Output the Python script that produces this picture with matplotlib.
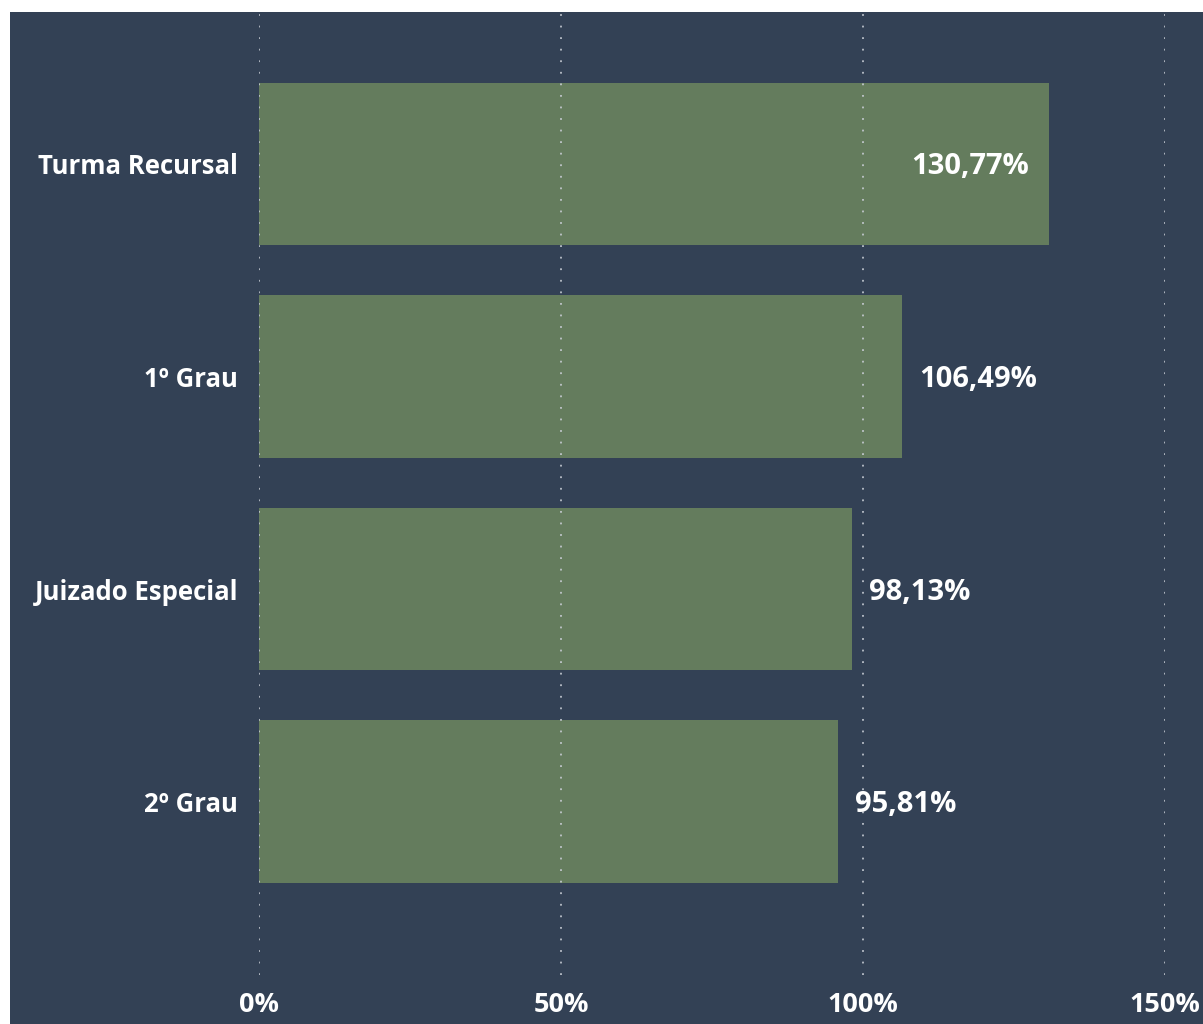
import matplotlib
matplotlib.use("Agg")
import matplotlib.pyplot as plt
from matplotlib.patches import Rectangle
from matplotlib.ticker import FuncFormatter

categories = ["Turma Recursal", "1º Grau", "Juizado Especial", "2º Grau"]
values = [130.77, 106.49, 98.13, 95.81]
value_labels = ["130,77%", "106,49%", "98,13%", "95,81%"]
x_ticks = [0, 50, 100, 150]

BG = "#334155"
BAR = "#647c5d"
W, H = 1203, 1024

plt.rcParams['font.family'] = ['Open Sans', 'DejaVu Sans']

fig = plt.figure(figsize=(W / 100, H / 100), dpi=100, facecolor="white")
fig.add_artist(Rectangle((10 / W, 0), 1 - 10 / W, 1 - 12 / H,
                         transform=fig.transFigure, facecolor=BG,
                         edgecolor="none", zorder=-5))

ax = fig.add_axes([259 / W, (H - 975) / H, 906 / W, 963 / H])
ax.set_zorder(1)
ax.set_facecolor("none")

ypos = list(range(len(categories)))
bars = ax.barh(ypos, values, height=0.763, color=BAR, zorder=2)

ax.set_xlim(0, 150)
ax.set_ylim(3.816, -0.715)

for xv in x_ticks:
    ax.axvline(xv, color="#c9ced6", lw=1.3, linestyle=(0, (1, 5.4)),
               alpha=0.9, zorder=3)

ax.set_xticks(x_ticks)
ax.xaxis.set_major_formatter(FuncFormatter(lambda v, p: f"{int(v)}%"))
ax.set_yticks(ypos)
ax.set_yticklabels(categories)
ax.tick_params(axis="both", length=0, colors="white")
ax.tick_params(axis="y", pad=15, labelsize=18.5)
ax.tick_params(axis="x", pad=12, labelsize=19.5)
for lbl in ax.get_xticklabels() + ax.get_yticklabels():
    lbl.set_fontweight("bold")
for s in ax.spines.values():
    s.set_visible(False)

for i, (v, t) in enumerate(zip(values, value_labels)):
    if v > 120:
        ax.annotate(t, xy=(v, i), xytext=(-20, -3), textcoords="offset pixels",
                    ha="right", va="center", color="white", fontsize=21,
                    fontweight="bold", zorder=4)
    else:
        ax.annotate(t, xy=(v, i), xytext=(17, -3), textcoords="offset pixels",
                    ha="left", va="center", color="white", fontsize=21,
                    fontweight="bold", zorder=4)

fig.savefig("out.png", dpi=100, facecolor=fig.get_facecolor())
